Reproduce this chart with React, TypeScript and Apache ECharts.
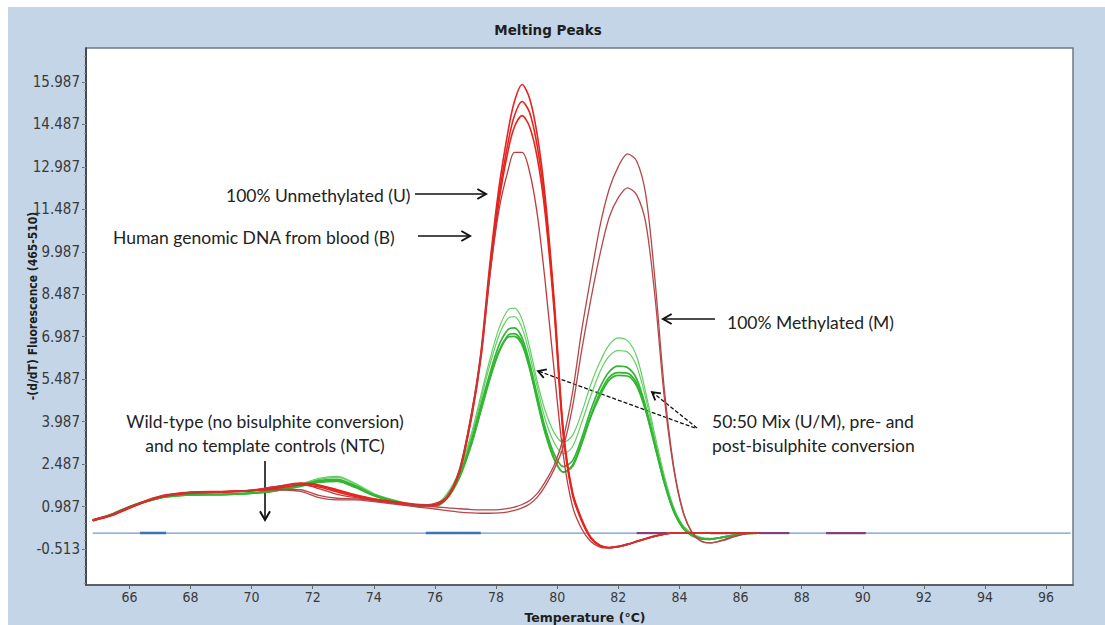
import React, { useEffect, useRef } from "react";
import * as echarts from "echarts";

// Temperature sample points (°C)
const temps = [
  64.8, 65.4, 66.0, 66.6, 67.2, 68.0, 69.0, 70.0, 70.8, 71.6, 72.2, 72.8, 73.4, 74.0, 74.8, 75.5,
  76.0, 76.4, 76.8, 77.2, 77.5, 77.8, 78.1, 78.4, 78.6, 78.85, 79.1, 79.35, 79.6, 79.9, 80.2, 80.5,
  80.8, 81.1, 81.4, 81.7, 82.0, 82.3, 82.6, 82.9, 83.2, 83.5, 83.8, 84.1, 84.4, 84.7, 85.0, 85.4,
  85.8, 86.2, 86.6,
];

// 100% Unmethylated (U) and blood DNA (B) curves
const u1 = [
  0.5, 0.68, 0.95, 1.2, 1.38, 1.48, 1.5, 1.55, 1.65, 1.8, 1.72, 1.55, 1.38, 1.24, 1.12, 1.05,
  1.05, 1.3, 2.25, 4.3, 6.4, 9.6, 12.3, 14.3, 15.3, 15.9, 15.4, 14.1, 12.0, 8.3, 3.7, 1.5,
  0.55, -0.1, -0.38, -0.46, -0.42, -0.34, -0.24, -0.14, -0.05, 0.02, 0.05, 0.05, 0.05, 0.05, 0.05, 0.05,
  0.05, 0.05, 0.05,
];
const u2 = [
  0.48, 0.66, 0.93, 1.18, 1.36, 1.46, 1.5, 1.56, 1.68, 1.82, 1.75, 1.58, 1.4, 1.26, 1.14, 1.06,
  1.05, 1.3, 2.2, 4.2, 6.3, 9.4, 12.0, 13.9, 14.8, 15.3, 14.9, 13.7, 11.7, 8.1, 3.6, 1.45,
  0.5, -0.12, -0.4, -0.47, -0.43, -0.35, -0.25, -0.15, -0.06, 0.01, 0.05, 0.05, 0.05, 0.05, 0.05, 0.05,
  0.05, 0.05, 0.05,
];
const u3 = [
  0.52, 0.7, 0.97, 1.22, 1.4, 1.5, 1.52, 1.55, 1.62, 1.75, 1.68, 1.5, 1.34, 1.22, 1.1, 1.03,
  1.05, 1.3, 2.2, 4.15, 6.2, 9.2, 11.8, 13.6, 14.4, 14.8, 14.4, 13.3, 11.4, 7.9, 3.5, 1.4,
  0.48, -0.13, -0.41, -0.47, -0.43, -0.35, -0.25, -0.15, -0.06, 0.01, 0.05, 0.05, 0.05, 0.05, 0.05, 0.05,
  0.05, 0.05, 0.05,
];
const u4 = [
  0.5, 0.69, 0.96, 1.21, 1.39, 1.49, 1.51, 1.57, 1.7, 1.78, 1.62, 1.42, 1.3, 1.2, 1.1, 1.04,
  1.1, 1.35, 2.3, 4.3, 6.3, 9.2, 11.5, 12.9, 13.5, 13.5, 12.8, 11.3, 9.0, 5.8, 2.8, 1.0,
  0.2, -0.25, -0.45, -0.48, -0.44, -0.36, -0.26, -0.16, -0.07, 0.0, 0.05, 0.05, 0.05, 0.05, 0.05, 0.05,
  0.05, 0.05, 0.05,
];

// 100% Methylated (M) curves
const m1 = [
  0.5, 0.68, 0.95, 1.2, 1.38, 1.48, 1.5, 1.55, 1.6, 1.58, 1.38, 1.28, 1.26, 1.2, 1.1, 1.0,
  0.98, 0.94, 0.91, 0.88, 0.87, 0.87, 0.88, 0.92, 0.97, 1.06, 1.2, 1.45, 1.85, 2.45, 3.4, 5.0,
  7.2, 9.1, 10.9, 12.2, 13.0, 13.45, 13.2, 12.0, 9.0, 5.2, 2.5, 0.9, 0.1, -0.22, -0.3, -0.22,
  -0.08, 0.03, 0.05,
];
const m2 = [
  0.49, 0.67, 0.94, 1.19, 1.37, 1.47, 1.49, 1.54, 1.58, 1.52, 1.3, 1.22, 1.22, 1.16, 1.06, 0.96,
  0.9, 0.84, 0.79, 0.76, 0.75, 0.75, 0.76, 0.8, 0.85, 0.94, 1.08, 1.32, 1.7, 2.3, 3.1, 4.5,
  6.5, 8.3, 9.9, 11.2, 11.9, 12.25, 12.0, 11.0, 8.4, 4.9, 2.4, 0.85, 0.08, -0.24, -0.3, -0.2,
  -0.06, 0.03, 0.05,
];

// 50:50 Mix (U/M) curves
const g1 = [
  0.5, 0.7, 0.98, 1.18, 1.33, 1.4, 1.42, 1.46, 1.56, 1.78, 1.98, 2.05, 1.8, 1.45, 1.18, 1.02,
  1.05, 1.45, 2.25, 3.6, 4.9, 6.2, 7.3, 7.95, 8.0, 7.6, 6.6, 5.4, 4.4, 3.6, 3.25, 3.5,
  4.3, 5.3, 6.1, 6.7, 6.95, 6.85, 6.3, 5.0, 3.5, 2.1, 1.0, 0.35, 0.05, -0.1, -0.14, -0.1,
  -0.02, 0.04, 0.05,
];
const g2 = [
  0.5, 0.7, 0.97, 1.17, 1.32, 1.39, 1.41, 1.45, 1.55, 1.76, 1.95, 2.02, 1.78, 1.43, 1.16, 1.01,
  1.05, 1.4, 2.2, 3.5, 4.75, 6.0, 7.05, 7.65, 7.7, 7.3, 6.35, 5.2, 4.1, 3.25, 2.85, 3.1,
  3.95, 4.9, 5.75, 6.3, 6.5, 6.45, 5.95, 4.8, 3.35, 2.0, 0.95, 0.3, 0.0, -0.12, -0.15, -0.1,
  -0.02, 0.04, 0.05,
];
const g3 = [
  0.51, 0.71, 0.99, 1.2, 1.35, 1.41, 1.42, 1.47, 1.57, 1.75, 1.9, 1.95, 1.72, 1.4, 1.15, 1.0,
  1.0, 1.35, 2.1, 3.35, 4.55, 5.7, 6.7, 7.25, 7.3, 6.95, 6.05, 4.9, 3.8, 2.85, 2.4, 2.6,
  3.4, 4.4, 5.2, 5.75, 5.95, 5.9, 5.5, 4.5, 3.2, 1.9, 0.9, 0.28, -0.02, -0.14, -0.16, -0.1,
  -0.02, 0.04, 0.05,
];
const g4 = [
  0.5, 0.7, 0.98, 1.19, 1.34, 1.4, 1.41, 1.46, 1.55, 1.72, 1.86, 1.9, 1.68, 1.38, 1.14, 1.0,
  1.0, 1.3, 2.05, 3.25, 4.4, 5.55, 6.5, 7.05, 7.1, 6.8, 5.9, 4.75, 3.65, 2.7, 2.2, 2.4,
  3.2, 4.15, 4.9, 5.45, 5.62, 5.6, 5.25, 4.35, 3.1, 1.85, 0.85, 0.25, -0.04, -0.15, -0.17, -0.1,
  -0.02, 0.04, 0.05,
];
const g5 = [
  0.5, 0.69, 0.97, 1.18, 1.33, 1.4, 1.41, 1.45, 1.54, 1.7, 1.84, 1.88, 1.66, 1.37, 1.13, 0.99,
  1.0, 1.28, 2.0, 3.2, 4.35, 5.5, 6.45, 6.98, 7.0, 6.7, 5.85, 4.7, 3.6, 2.65, 2.2, 2.45,
  3.25, 4.2, 5.0, 5.55, 5.72, 5.7, 5.35, 4.4, 3.15, 1.85, 0.85, 0.25, -0.04, -0.15, -0.17, -0.1,
  -0.02, 0.04, 0.05,
];

// Wild-type / NTC flat traces
const ntcLevel = 0.05;
const ntcSpan = [64.8, 96.8];
const ntcBlueSegments = [[66.35, 67.2], [75.7, 77.5]];
const ntcPurpleSegments = [[82.6, 83.6], [85.0, 86.2], [86.6, 87.6], [88.8, 90.1]];

// Axis ticks
const xTicks = [66, 68, 70, 72, 74, 76, 78, 80, 82, 84, 86, 88, 90, 92, 94, 96];
const yTicks = [-0.513, 0.987, 2.487, 3.987, 5.487, 6.987, 8.487, 9.987, 11.487, 12.987, 14.487, 15.987];

const tickFont = "'Liberation Sans Narrow', 'DejaVu Sans Condensed', Arial, sans-serif";
const noteFont = "Lato, 'Open Sans', sans-serif";

function arrowHead(tipX: number, tipY: number, fromX: number, fromY: number, size: number, width: number) {
  const dx = fromX - tipX;
  const dy = fromY - tipY;
  const len = Math.sqrt(dx * dx + dy * dy);
  const ux = dx / len;
  const uy = dy / len;
  const a = Math.PI / 6;
  const p1 = [tipX + size * (ux * Math.cos(a) - uy * Math.sin(a)), tipY + size * (ux * Math.sin(a) + uy * Math.cos(a))];
  const p2 = [tipX + size * (ux * Math.cos(-a) - uy * Math.sin(-a)), tipY + size * (ux * Math.sin(-a) + uy * Math.cos(-a))];
  return {
    type: "polyline",
    shape: { points: [p1, [tipX, tipY], p2] },
    style: { stroke: "#111", lineWidth: width, fill: null },
    silent: true,
  };
}

function arrow(x1: number, y1: number, x2: number, y2: number, dashed: boolean) {
  return [
    {
      type: "line",
      shape: { x1, y1, x2, y2 },
      style: { stroke: "#111", lineWidth: dashed ? 1.3 : 1.6, lineDash: dashed ? [4, 2] : null },
      silent: true,
    },
    arrowHead(x2, y2, x1, y1, dashed ? 9 : 10, dashed ? 1.8 : 2),
  ];
}

function note(text: string, x: number, y: number, align: string) {
  return {
    type: "text",
    x,
    y,
    silent: true,
    style: {
      text,
      fill: "#222",
      fontSize: 17.5,
      fontFamily: noteFont,
      align,
      textAlign: align,
      verticalAlign: "middle",
      textVerticalAlign: "middle",
    },
  };
}

export default function App() {
  const ref = useRef<HTMLDivElement>(null);

  useEffect(() => {
    if (!ref.current) return;
    const chart = echarts.init(ref.current, null, { renderer: "svg" });

    const pairs = (vals: number[]) => temps.map((t, i) => [t, vals[i]]);
    const curve = (name: string, vals: number[], color: string, width: number, z: number) => ({
      name,
      type: "line",
      data: pairs(vals),
      showSymbol: false,
      smooth: 0.3,
      z,
      lineStyle: { color, width },
      itemStyle: { color },
      emphasis: { disabled: true },
    });
    const flat = (name: string, seg: number[], color: string, width: number) => ({
      name,
      type: "line",
      data: [[seg[0], ntcLevel], [seg[1], ntcLevel]],
      showSymbol: false,
      z: 1,
      lineStyle: { color, width },
      itemStyle: { color },
      emphasis: { disabled: true },
    });

    const minorTicks: number[] = [];
    for (let k = -4; k <= 62; k++) {
      const v = yTicks[0] + 0.3 * k;
      if (v > -1.78 && v < 17.18) minorTicks.push(v);
    }

    const greenThin = "#63cf63";
    const greenThick = "#33b533";
    const uRed = "#e5241e";
    const mRed = "#b4474a";

    const series: any[] = [
      flat("Wild-type / NTC", ntcSpan, "#6a9bc8", 1.3),
      ...ntcBlueSegments.map((s, i) => flat("NTC blue " + i, s, "#3f73ab", 2.6)),
      ...ntcPurpleSegments.map((s, i) => flat("NTC purple " + i, s, "#84407e", 2.2)),
      curve("Mix 1", g1, greenThin, 1.2, 3),
      curve("Mix 2", g2, greenThin, 1.2, 3),
      curve("Mix 3", g3, greenThick, 1.7, 3),
      curve("Mix 4", g4, greenThick, 1.7, 3),
      curve("Mix 5", g5, greenThick, 1.7, 3),
      curve("Methylated 1", m1, mRed, 1.3, 4),
      curve("Methylated 2", m2, mRed, 1.3, 4),
      curve("Unmethylated 1", u1, uRed, 1.6, 5),
      curve("Unmethylated 2", u2, uRed, 1.6, 5),
      curve("Unmethylated 3", u3, uRed, 1.6, 5),
      curve("Blood DNA", u4, "#c0393a", 1.3, 5),
    ];

    chart.setOption({
      animation: false,
      backgroundColor: "#c4d5e7",
      grid: {
        left: 78,
        right: 32,
        top: 41,
        bottom: 40,
        show: true,
        backgroundColor: "#ffffff",
        borderColor: "#6f7a86",
        borderWidth: 1.5,
      },
      xAxis: {
        type: "value",
        min: 64.58,
        max: 96.88,
        axisLine: { show: true, onZero: false, lineStyle: { color: "#4a4f55", width: 1.5 } },
        axisTick: { show: true, customValues: xTicks, length: 4, lineStyle: { color: "#666" } },
        axisLabel: {
          customValues: xTicks,
          color: "#3a3a3a",
          fontFamily: tickFont,
          fontSize: 14,
          margin: 5,
        },
        splitLine: { show: false },
      },
      yAxis: [
        {
          type: "value",
          min: -1.785,
          max: 17.19,
          axisLine: { show: true, onZero: false, lineStyle: { color: "#2f3338", width: 1.5 } },
          axisTick: { show: true, customValues: yTicks, length: 4, lineStyle: { color: "#666" } },
          axisLabel: {
            customValues: yTicks,
            formatter: (v: number) => v.toFixed(3),
            color: "#3a3a3a",
            fontFamily: tickFont,
            fontSize: 15,
            margin: 6,
          },
          splitLine: { show: false },
        },
        {
          type: "value",
          min: -1.785,
          max: 17.19,
          position: "left",
          axisLine: { show: false },
          axisTick: { show: true, customValues: minorTicks, length: 2, lineStyle: { color: "#8a9098" } },
          axisLabel: { show: false },
          splitLine: { show: false },
        },
      ],
      graphic: [
        {
          type: "text",
          x: 540,
          y: 23,
          silent: true,
          style: {
            text: "Melting Peaks",
            fill: "#1e1e1e",
            fontSize: 13.5,
            fontWeight: "bold",
            fontFamily: "'DejaVu Sans', sans-serif",
            align: "center",
            textAlign: "center",
            verticalAlign: "middle",
            textVerticalAlign: "middle",
          },
        },
        {
          type: "text",
          x: 577,
          y: 610,
          silent: true,
          style: {
            text: "Temperature (°C)",
            fill: "#1e1e1e",
            fontSize: 12.5,
            fontWeight: "bold",
            fontFamily: "'DejaVu Sans', sans-serif",
            align: "center",
            textAlign: "center",
            verticalAlign: "middle",
            textVerticalAlign: "middle",
          },
        },
        {
          type: "text",
          x: 25,
          y: 299,
          rotation: Math.PI / 2,
          silent: true,
          style: {
            text: "-(d/dT) Fluorescence (465-510)",
            fill: "#1e1e1e",
            fontSize: 12,
            fontWeight: "bold",
            fontFamily: tickFont,
            align: "center",
            textAlign: "center",
            verticalAlign: "middle",
            textVerticalAlign: "middle",
          },
        },
        note("100% Unmethylated (U)", 218, 188, "left"),
        ...arrow(407, 187, 478, 187, false),
        note("Human genomic DNA from blood (B)", 105, 230, "left"),
        ...arrow(410, 229, 462, 229, false),
        note("100% Methylated (M)", 719, 315, "left"),
        ...arrow(707, 312, 655, 312, false),
        note("Wild-type (no bisulphite conversion)", 257, 414, "center"),
        note("and no template controls (NTC)", 257, 438, "center"),
        ...arrow(257, 454, 257, 513, false),
        note("50:50 Mix (U/M), pre- and", 704, 414, "left"),
        note("post-bisulphite conversion", 704, 438, "left"),
        ...arrow(687, 421, 530, 364, true),
        ...arrow(689, 421, 644, 385, true),
      ],
      series,
    });

    return () => chart.dispose();
  }, []);

  return (
    <div
      ref={ref}
      style={{ position: "fixed", left: 8, top: 7, width: 1097, height: 618 }}
    />
  );
}
